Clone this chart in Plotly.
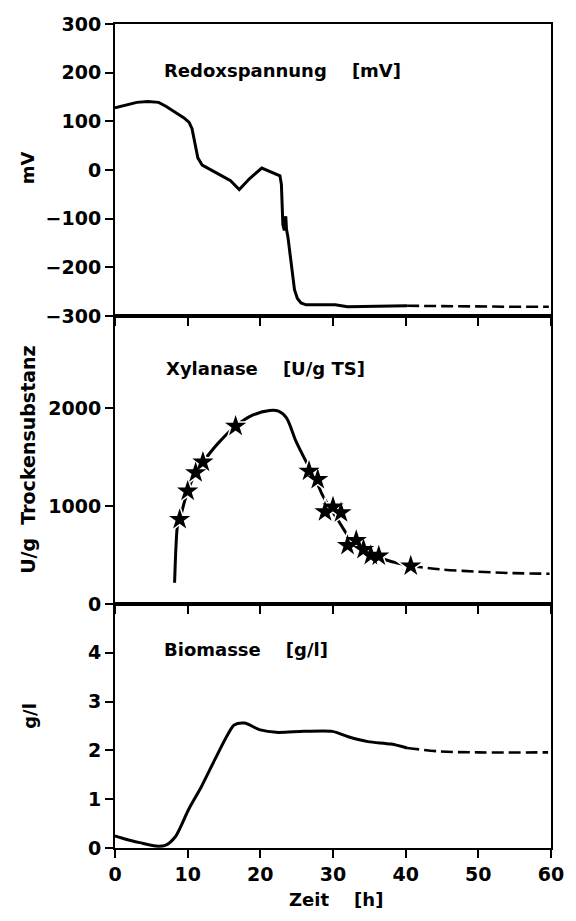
import plotly.graph_objects as go
from plotly.subplots import make_subplots

# --- Redoxspannung [mV] ---
redox_t = [0, 1.5, 3, 4.5, 6, 7, 8.3, 9.5, 10.2, 10.6, 11.0, 11.4, 12.0, 13.0, 14.2,
           15.9, 17.1, 18.5, 20.2, 22.7, 22.9, 23.1, 23.3, 23.5, 23.6, 23.8, 24.3,
           24.7, 25.1, 25.6, 26.3, 30.3, 32.0, 40.2]
redox_v = [128, 133, 139, 141, 139, 131, 118, 107, 98, 85, 55, 25, 10, 1, -8,
           -22, -40, -18, 4, -12, -30, -112, -124, -95, -122, -138, -198,
           -246, -264, -273, -277, -277, -281, -279]
redox_tail_t = [40.2, 45, 50, 55, 59.7]
redox_tail_v = [-279, -280, -281, -281, -281]

# --- Xylanase [U/g TS] ---
xyl_curve_t = [8.2, 8.4, 8.6, 8.9, 10.0, 11.1, 12.1, 14.3, 16.6, 19.0, 21.3, 22.5,
               23.6, 24.9, 26.5, 27.5, 28.5, 29.5, 30.5, 31.5, 32.5, 33.5, 34.5,
               35.5, 36.5, 38.5, 40.7]
xyl_curve_v = [217, 600, 800, 864, 1153, 1340, 1449, 1650, 1816, 1930, 1976, 1969,
               1901, 1663, 1425, 1290, 1120, 990, 880, 760, 650, 575, 530,
               495, 470, 425, 388]
xyl_tail_t = [40.7, 44.7, 50, 55, 59.8]
xyl_tail_v = [388, 354, 330, 315, 309]
xyl_star_t = [8.9, 10.0, 11.1, 12.1, 16.6, 26.7, 27.9, 28.9, 30.0, 31.1, 32.0,
              33.2, 34.2, 35.2, 36.3, 40.7]
xyl_star_v = [864, 1153, 1340, 1449, 1816, 1357, 1272, 942, 990, 932, 599,
              650, 558, 497, 490, 388]

# --- Biomasse [g/l] ---
bio_t = [0, 1.5, 3.4, 5.6, 7.0, 8.3, 10.1, 11.9, 13.7, 15.5, 16.4, 17.8, 20.0,
         22.2, 26.0, 29.9, 32.1, 34.8, 38.0, 40.2]
bio_v = [0.25, 0.18, 0.11, 0.04, 0.06, 0.23, 0.78, 1.26, 1.80, 2.32, 2.52, 2.56,
         2.42, 2.37, 2.39, 2.39, 2.28, 2.18, 2.13, 2.05]
bio_tail_t = [40.2, 44.7, 50, 59.6]
bio_tail_v = [2.05, 1.98, 1.96, 1.96]

x_ticks = [0, 10, 20, 30, 40, 50, 60]
redox_ticks = [-300, -200, -100, 0, 100, 200, 300]
xyl_ticks = [0, 1000, 2000]
bio_ticks = [0, 1, 2, 3, 4]

FONT = "DejaVu Sans"
INK = "black"
SOLID_W = 3
DASH_W = 2.6
DASH = "12px,5px"
NBSP = "\u00a0"

fig = make_subplots(rows=3, cols=1, shared_xaxes=True, vertical_spacing=0)

# Redox potential
fig.add_trace(go.Scatter(x=redox_t, y=redox_v, mode="lines",
                         line=dict(color=INK, width=SOLID_W)), row=1, col=1)
fig.add_trace(go.Scatter(x=redox_tail_t, y=redox_tail_v, mode="lines",
                         line=dict(color=INK, width=DASH_W, dash=DASH)), row=1, col=1)

# Xylanase activity: fitted curve, white halos to break the line, then stars
fig.add_trace(go.Scatter(x=xyl_curve_t, y=xyl_curve_v, mode="lines",
                         line=dict(color=INK, width=SOLID_W, shape="spline", smoothing=0.8)),
              row=2, col=1)
fig.add_trace(go.Scatter(x=xyl_tail_t, y=xyl_tail_v, mode="lines",
                         line=dict(color=INK, width=DASH_W, dash=DASH, shape="spline")),
              row=2, col=1)
fig.add_trace(go.Scatter(x=xyl_star_t, y=xyl_star_v, mode="markers",
                         marker=dict(symbol="star", size=23, color="white",
                                     line=dict(width=0))), row=2, col=1)
fig.add_trace(go.Scatter(x=xyl_star_t, y=xyl_star_v, mode="markers",
                         marker=dict(symbol="star", size=16, color=INK,
                                     line=dict(width=0))), row=2, col=1)

# Biomass
fig.add_trace(go.Scatter(x=bio_t, y=bio_v, mode="lines",
                         line=dict(color=INK, width=SOLID_W, shape="spline", smoothing=0.8)),
              row=3, col=1)
fig.add_trace(go.Scatter(x=bio_tail_t, y=bio_tail_v, mode="lines",
                         line=dict(color=INK, width=DASH_W, dash=DASH, shape="spline")),
              row=3, col=1)

axis_common = dict(showline=True, linewidth=2, linecolor=INK, mirror=True,
                   ticks="outside", ticklen=8, tickwidth=2, tickcolor=INK,
                   showgrid=False, zeroline=False,
                   tickfont=dict(family=FONT, size=19, color=INK, weight="bold"))

# panel heights in paper units: bottom 244 px, middle 287 px, top 292 px of 824
dom_bot = [0.0, 0.2961]
dom_mid = [0.2961, 0.6456]
dom_top = [0.6456, 1.0]

for r in (1, 2, 3):
    fig.update_xaxes(range=[0, 60], tickvals=x_ticks, showticklabels=(r == 3),
                     row=r, col=1, **axis_common)

fig.update_yaxes(range=[-300, 300], tickvals=redox_ticks, domain=dom_top,
                 row=1, col=1, **axis_common)
fig.update_yaxes(range=[0, 2940], tickvals=xyl_ticks, domain=dom_mid,
                 row=2, col=1, **axis_common)
fig.update_yaxes(range=[0, 5], tickvals=bio_ticks, domain=dom_bot,
                 row=3, col=1, **axis_common)

txt = dict(family=FONT, size=18, color=INK, weight="bold")
gap = NBSP * 4
annotations = [
    dict(x=6.47, y=205, xref="x", yref="y", text="Redoxspannung" + gap + "[mV]"),
    dict(x=6.74, y=2400, xref="x2", yref="y2", text="Xylanase" + gap + "[U/g TS]"),
    dict(x=6.47, y=4.06, xref="x3", yref="y3", text="Biomasse" + gap + "[g/l]"),
]
for a in annotations:
    fig.add_annotation(showarrow=False, xanchor="left", yanchor="middle",
                       font=txt, **a)

# axis titles
title_common = dict(xref="paper", yref="paper", showarrow=False,
                    xanchor="center", yanchor="middle")
fig.add_annotation(x=-0.2, y=0.826, text="mV", textangle=-90, font=txt,
                   **title_common)
fig.add_annotation(x=-0.2, y=0.472, text="U/g" + NBSP * 2 + "Trockensubstanz",
                   textangle=-90, font=dict(txt, size=19), **title_common)
fig.add_annotation(x=-0.198, y=0.160, text="g/l", textangle=-90, font=txt,
                   **title_common)
fig.add_annotation(x=0.508, y=-0.0631, text="Zeit" + NBSP * 4 + "[h]", font=txt,
                   **title_common)

fig.update_layout(width=576, height=921, showlegend=False,
                  margin=dict(l=115, r=16, t=24, b=73),
                  paper_bgcolor="white", plot_bgcolor="white")

fig.write_html("out.html")
